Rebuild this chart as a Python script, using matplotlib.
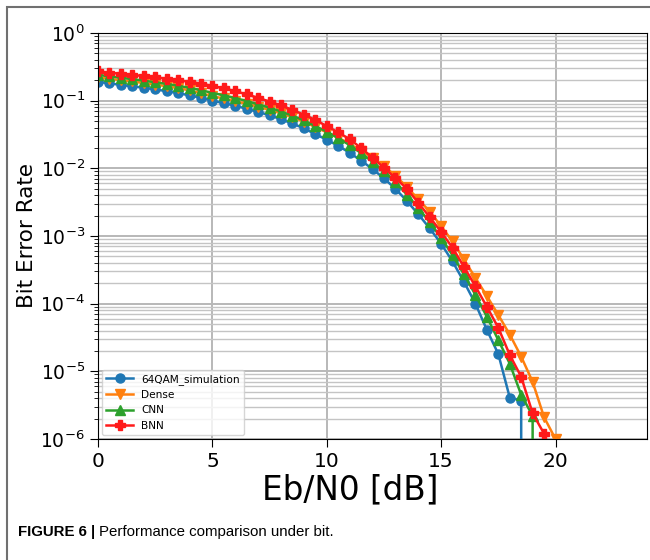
import numpy as np
import matplotlib
matplotlib.use('Agg')
import matplotlib.pyplot as plt
from matplotlib.patches import Rectangle

# Eb/N0 grid in dB (0.5 dB steps)
ebn0 = np.arange(0, 21, 0.5)

# Bit error rates (0 = no errors, drops off the log axis)
ber_sim = [0.190, 0.180, 0.171, 0.163, 0.155, 0.147, 0.138, 0.129, 0.120, 0.110,
           0.100, 0.092, 0.084, 0.076, 0.068, 0.061, 0.053, 0.046, 0.039, 0.032,
           0.0265, 0.0215, 0.0170, 0.0130, 0.0098, 0.0071, 0.0050, 0.0033, 0.0021, 0.0013,
           7.7e-4, 4.2e-4, 2.1e-4, 1.0e-4, 4.1e-5, 1.8e-5, 4.1e-6, 3.7e-6, 0]
ber_dense = [0.220, 0.210, 0.201, 0.192, 0.182, 0.173, 0.163, 0.153, 0.142, 0.129,
             0.116, 0.108, 0.098, 0.090, 0.081, 0.073, 0.065, 0.057, 0.049, 0.0406,
             0.034, 0.0284, 0.0230, 0.0182, 0.0142, 0.0107, 0.0078, 0.0053, 0.0035, 0.0023,
             1.4e-3, 8.3e-4, 4.5e-4, 2.4e-4, 1.3e-4, 6.8e-5, 3.5e-5, 1.65e-5, 7.0e-6, 2.1e-6,
             1.0e-6, 0]
ber_cnn = [0.240, 0.229, 0.218, 0.208, 0.197, 0.187, 0.177, 0.166, 0.155, 0.143,
           0.130, 0.120, 0.109, 0.099, 0.088, 0.079, 0.069, 0.060, 0.051, 0.042,
           0.035, 0.028, 0.022, 0.0168, 0.0125, 0.0090, 0.0063, 0.0041, 0.0026, 0.0016,
           9.4e-4, 5.2e-4, 2.7e-4, 1.35e-4, 6.4e-5, 2.9e-5, 1.3e-5, 4.5e-6, 2.2e-6, 0]
ber_bnn = [0.270, 0.259, 0.250, 0.240, 0.231, 0.221, 0.212, 0.201, 0.190, 0.178,
           0.165, 0.152, 0.138, 0.124, 0.110, 0.097, 0.085, 0.073, 0.062, 0.052,
           0.042, 0.034, 0.027, 0.020, 0.0144, 0.0102, 0.0072, 0.0050, 0.0031, 0.0019,
           1.15e-3, 6.7e-4, 3.5e-4, 1.8e-4, 9.0e-5, 4.4e-5, 1.75e-5, 8.3e-6, 2.4e-6, 1.2e-6, 0]

series = [
    ('64QAM_simulation', ber_sim, 'o', '#1f77b4'),
    ('Dense', ber_dense, 'v', '#ff7f0e'),
    ('CNN', ber_cnn, '^', '#2ca02c'),
    ('BNN', ber_bnn, 'P', '#ff1a1a'),
]

fig = plt.figure(figsize=(6.5, 5.6), dpi=100)
ax = fig.add_axes([98 / 650, 1 - 439 / 560, 549 / 650, 406 / 560])

for name, ber, mk, col in series:
    ax.semilogy(ebn0[:len(ber)], ber, marker=mk, color=col, lw=1.8, ms=6.5, label=name)

ax.set_xlim(0, 24)
ax.set_ylim(1e-6, 1)
ax.set_xticks([0, 5, 10, 15, 20])
ax.grid(True, which='major', color='#b8b8b8', lw=1.4)
ax.grid(True, which='minor', axis='y', color='#c4c4c4', lw=1.0)
ax.tick_params(axis='x', which='major', labelsize=14.5, length=6)
ax.tick_params(axis='y', which='major', labelsize=13.5, length=6)
ax.tick_params(axis='y', which='minor', length=3)
ax.set_xlabel('Eb/N0 [dB]', fontsize=23.5)
ax.xaxis.set_label_coords((350 - 98) / 549, -0.085)
ax.set_ylabel('Bit Error Rate', fontsize=15.5, labelpad=2)
ax.legend(loc='lower left', fontsize=7.6, handlelength=2.5, borderaxespad=0.4)

# figure panel frame and caption
fig.patches.append(Rectangle((7 / 650, -0.05), 1.2, 1.05 - 7 / 560, transform=fig.transFigure,
                             fill=False, edgecolor='#707070', lw=1.5))
cap_font = ['Liberation Sans Narrow', 'Liberation Sans', 'DejaVu Sans']
t1 = fig.text(18 / 650, 1 - 536 / 560, 'FIGURE 6 |', fontsize=10.8, fontweight='bold',
              family=cap_font, va='baseline')
fig.canvas.draw()
bb = t1.get_window_extent()
fig.text((bb.x1 + 4) / 650, 1 - 536 / 560, 'Performance comparison under bit.', fontsize=10.8,
         family=cap_font, va='baseline')

fig.savefig('out.png', dpi=100)
plt.close(fig)
